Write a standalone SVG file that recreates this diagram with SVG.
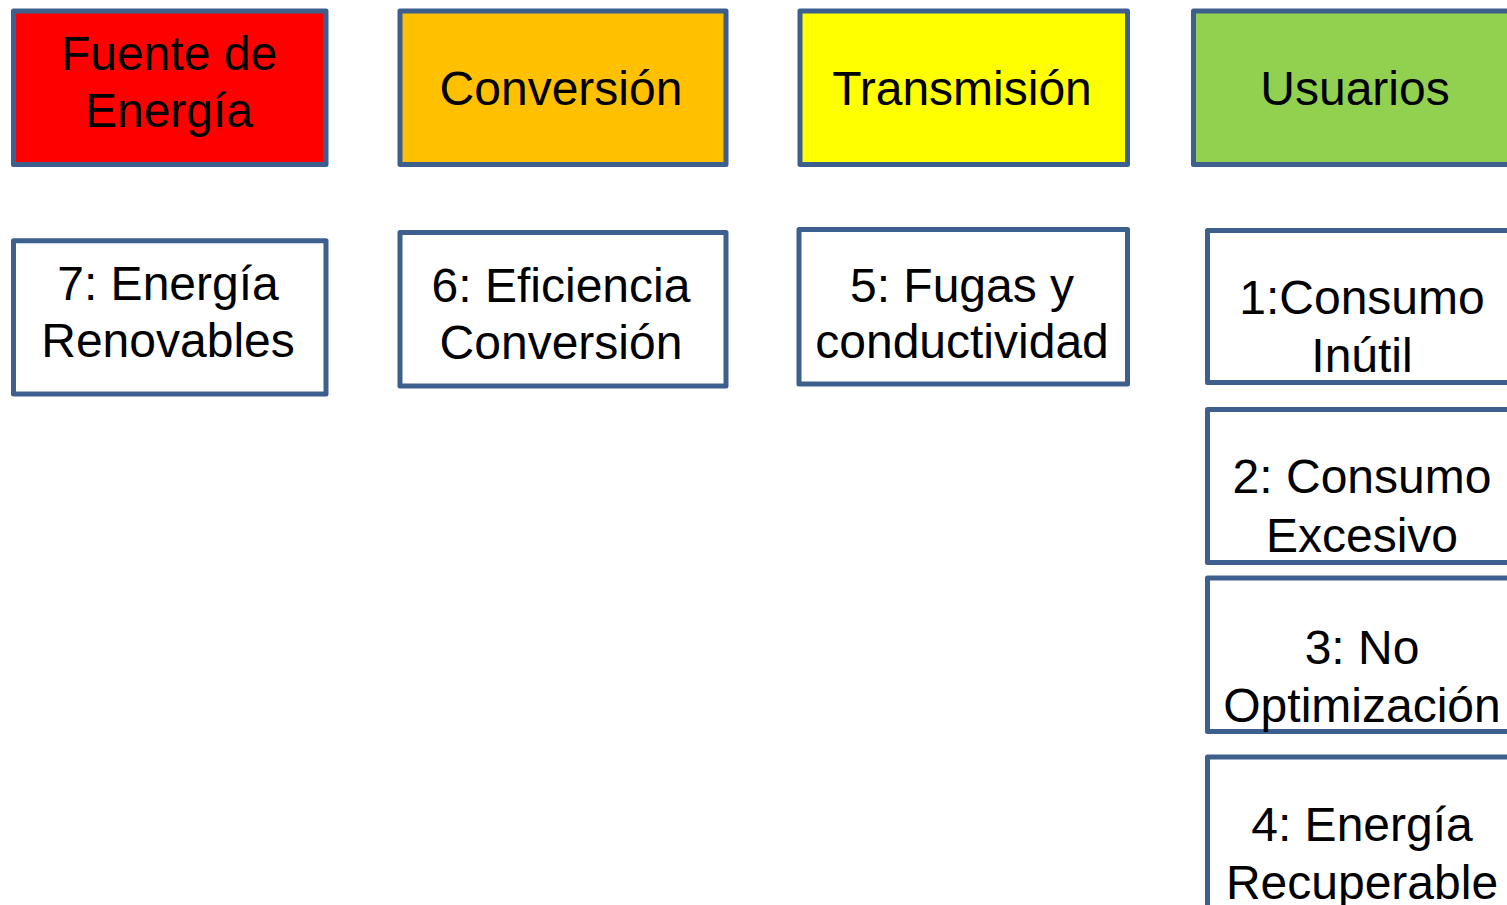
<svg xmlns="http://www.w3.org/2000/svg" width="1507" height="905" viewBox="0 0 1507 905">
  <style>
    .box { stroke: #3c5f8e; stroke-width: 5; stroke-linejoin: round; }
    .plain { fill: #ffffff; }
    .lbl { font-family: "Liberation Sans", Arial, sans-serif; font-size: 48px; fill: #000000; text-anchor: middle; }
  </style>
  <rect width="1507" height="905" fill="#ffffff"/>

  <!-- stage headers -->
  <g id="fuente">
    <rect class="box" x="13.5" y="11" width="312.5" height="153.5" fill="#ff0000"/>
    <text class="lbl" x="169" y="70">Fuente de</text>
    <text class="lbl" x="169" y="127">Energía</text>
  </g>
  <g id="conversion">
    <rect class="box" x="400" y="11" width="326" height="153.5" fill="#ffc000"/>
    <text class="lbl" x="561" y="105">Conversión</text>
  </g>
  <g id="transmision">
    <rect class="box" x="800" y="11" width="327.5" height="153.5" fill="#ffff00"/>
    <text class="lbl" x="962" y="105">Transmisión</text>
  </g>
  <g id="usuarios">
    <rect class="box" x="1193.5" y="11" width="323" height="153.5" fill="#92d050"/>
    <text class="lbl" x="1355" y="105">Usuarios</text>
  </g>

  <!-- numbered items -->
  <g id="item7">
    <rect class="box plain" x="13.5" y="240.8" width="312.5" height="153.2"/>
    <text class="lbl" x="168" y="300">7: Energía</text>
    <text class="lbl" x="168" y="357">Renovables</text>
  </g>
  <g id="item6">
    <rect class="box plain" x="400" y="232.5" width="326" height="153.5"/>
    <text class="lbl" x="561" y="302">6: Eficiencia</text>
    <text class="lbl" x="561" y="359">Conversión</text>
  </g>
  <g id="item5">
    <rect class="box plain" x="799" y="229.5" width="328.5" height="154.5"/>
    <text class="lbl" x="962" y="302">5: Fugas y</text>
    <text class="lbl" x="962" y="358">conductividad</text>
  </g>
  <g id="item1">
    <rect class="box plain" x="1207.5" y="230.5" width="309" height="152"/>
    <text class="lbl" x="1362" y="314">1:Consumo</text>
    <text class="lbl" x="1362" y="372">Inútil</text>
  </g>
  <g id="item2">
    <rect class="box plain" x="1207.5" y="409.5" width="309" height="153"/>
    <text class="lbl" x="1362" y="493">2: Consumo</text>
    <text class="lbl" x="1362" y="552">Excesivo</text>
  </g>
  <g id="item3">
    <rect class="box plain" x="1207.5" y="578" width="309" height="153.5"/>
    <text class="lbl" x="1362" y="664">3: No</text>
    <text class="lbl" x="1362" y="722">Optimización</text>
  </g>
  <g id="item4">
    <rect class="box plain" x="1207.5" y="757" width="309" height="153"/>
    <text class="lbl" x="1362" y="841">4: Energía</text>
    <text class="lbl" x="1362" y="899">Recuperable</text>
  </g>

  <g id="connectors"/>
</svg>
